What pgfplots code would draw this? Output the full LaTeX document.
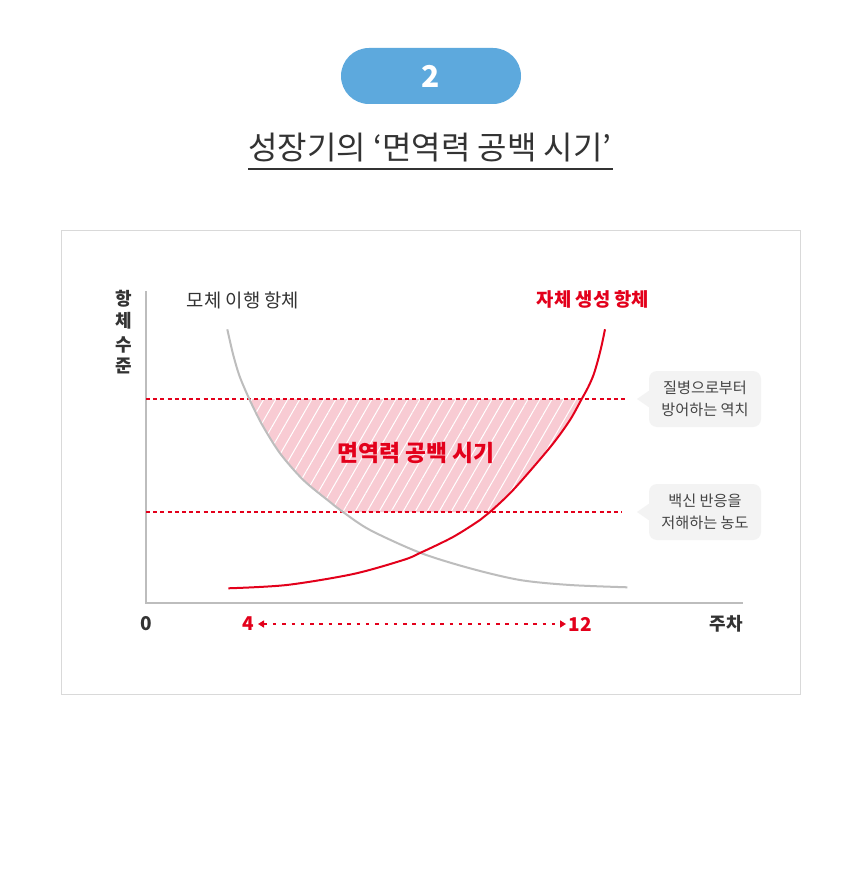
\documentclass[border=0pt]{standalone}
\usepackage{fontspec}
\setmainfont{Noto Sans CJK KR}
\usepackage{pgfplots}
\pgfplotsset{compat=1.18}
\usetikzlibrary{patterns.meta,arrows.meta}

\definecolor{redc}{HTML}{E3001B}
\definecolor{grayc}{HTML}{BDBDBD}
\definecolor{pinkc}{HTML}{F8CBD3}
\definecolor{pillc}{HTML}{5DA9DD}
\definecolor{textc}{HTML}{333333}
\definecolor{notec}{HTML}{444444}
\definecolor{boxc}{HTML}{F3F3F3}
\definecolor{framec}{HTML}{D9D9D9}

\newcommand{\fs}[1]{\fontsize{#1}{#1}\selectfont}

\begin{document}
\begin{tikzpicture}
\begin{axis}[
  width=430pt, height=438.5pt, scale only axis,
  xmin=0, xmax=860, ymin=0, ymax=877, y dir=reverse,
  hide axis, clip=false,
]
% page background and frame
\path[fill=white] (axis cs:0,0) rectangle (axis cs:860,877);
\draw[framec, line width=0.5pt] (axis cs:61,231) rectangle (axis cs:800,694);

% header
\fill[pillc, rounded corners=14pt] (axis cs:341,48) rectangle (axis cs:521,104);
\node[white, font=\bfseries\fs{15}] at (axis cs:431,76) {2};
\node[textc, font=\fs{16}] at (axis cs:430,148) {성장기의 ‘면역력 공백 시기’};
\draw[textc, line width=1pt] (axis cs:248,169) -- (axis cs:613,169);

% gap region (between the two curves and the two thresholds)
\addplot[draw=none, fill=pinkc,
  postaction={pattern={Lines[angle=60,distance=5.2pt,line width=0.5pt]}, pattern color=white}]
  coordinates {
  (249.3,399) (262,424.5) (280,453.3) (303.3,480) (330,502) (343,512)
  (490,512) (510,493.3) (530,471) (553.3,443.3) (570,420) (581.7,399)
  } --cycle;

% axes
\addplot[grayc, line width=1pt] coordinates {(146,291) (146,603) (743,603)};

% thresholds
\addplot[redc, line width=1pt, dash pattern=on 2pt off 1.6pt] coordinates {(146,399) (625,399)};
\addplot[redc, line width=1pt, dash pattern=on 2pt off 1.6pt] coordinates {(146,512) (622,512)};

% maternal antibody
\addplot[grayc, line width=1pt, smooth] coordinates {
  (227.3,329.3) (233,354) (239.5,376) (249.3,399) (262,424.5) (280,453.3)
  (303.3,480) (330,502) (343,512) (370,530) (420,552.7) (470,568.3)
  (520,580) (570,585) (627.3,587.3)
};
% own antibody
\addplot[redc, line width=1pt, smooth] coordinates {
  (228.3,588.3) (286.7,585) (353.3,574) (403.3,560) (420,553) (453,537)
  (480,520) (490,512) (510,493.3) (530,471) (553.3,443.3) (570,420)
  (581.7,399) (588,387.5) (593.5,375) (598,360) (601.5,346) (605,329.3)
};

% week span arrow
\addplot[redc, line width=1pt, dash pattern=on 1.75pt off 2.9pt,
  {Triangle[length=3pt,width=3.5pt]}-{Triangle[length=3pt,width=3.5pt]}]
  coordinates {(258,624) (566,624)};

% labels
\node[textc, font=\fs{9.4}] at (axis cs:243,300) {모체 이행 항체};
\node[redc, font=\bfseries\fs{9.4}] at (axis cs:593,299) {자체 생성 항체};
\node[redc, font=\bfseries\fs{11.4}] at (axis cs:416,453) {면역력 공백 시기};
\node[textc, font=\bfseries\fs{9}] at (axis cs:124,299) {항};
\node[textc, font=\bfseries\fs{9}] at (axis cs:124,321) {체};
\node[textc, font=\bfseries\fs{9}] at (axis cs:124,345) {수};
\node[textc, font=\bfseries\fs{9}] at (axis cs:124,366) {준};
\node[textc, font=\bfseries\fs{9.5}] at (axis cs:146,624) {0};
\node[redc, font=\bfseries\fs{9.5}] at (axis cs:248,624) {4};
\node[redc, font=\bfseries\fs{9.5}] at (axis cs:580,624) {12};
\node[textc, font=\bfseries\fs{9}] at (axis cs:726,624) {주차};

% callouts
\fill[boxc, rounded corners=4pt] (axis cs:649,371) rectangle (axis cs:761,427);
\fill[boxc] (axis cs:650,390) -- (axis cs:637,399) -- (axis cs:650,408) -- cycle;
\node[notec, font=\fs{7.6}, align=center, execute at begin node={\baselineskip=11pt}] at (axis cs:705,399) {질병으로부터\\방어하는 역치};
\fill[boxc, rounded corners=4pt] (axis cs:649,484) rectangle (axis cs:761,540);
\fill[boxc] (axis cs:650,503) -- (axis cs:637,512) -- (axis cs:650,521) -- cycle;
\node[notec, font=\fs{7.6}, align=center, execute at begin node={\baselineskip=11pt}] at (axis cs:705,512) {백신 반응을\\저해하는 농도};
\end{axis}
\end{tikzpicture}
\end{document}
